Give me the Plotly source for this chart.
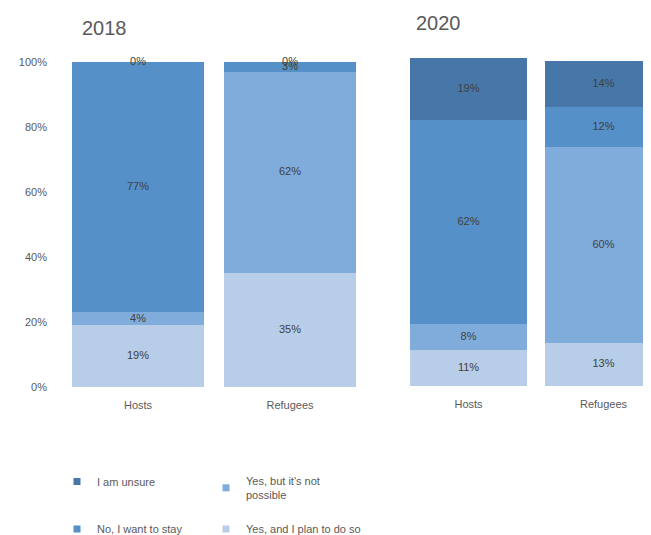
import plotly.graph_objects as go

categories = ["Hosts", "Refugees"]
series_names = ["Yes, and I plan to do so", "Yes, but it's not possible", "No, I want to stay", "I am unsure"]
legend_names = ["Yes, and I plan to do so", "Yes, but it's not<br>possible", "No, I want to stay", "I am unsure"]
colors = ["#B8CDE7", "#80ACDB", "#5590C8", "#4677A8"]

values_2018 = {
    "Yes, and I plan to do so": [19, 35],
    "Yes, but it's not possible": [4, 62],
    "No, I want to stay": [77, 3],
    "I am unsure": [0, 0],
}
values_2020 = {
    "Yes, and I plan to do so": [11, 13],
    "Yes, but it's not possible": [8, 60],
    "No, I want to stay": [62, 12],
    "I am unsure": [19, 14],
}
y_ticks = [0, 20, 40, 60, 80, 100]
y_tick_labels = ["0%", "20%", "40%", "60%", "80%", "100%"]

OFF = 8  # page body margin
W, H = 651 - OFF, 535 - OFF
TXT = "#404040"
GRAY = "#595959"
FONT = "Liberation Sans"

fig = go.Figure()

def add_panel(vals, xa, ya):
    cum = [0.0] * len(categories)
    lx, ly, lt = [], [], []
    for name, col in zip(series_names, colors):
        v = vals[name]
        fig.add_trace(go.Bar(x=categories, y=v, marker=dict(color=col, line=dict(width=0)),
                             xaxis=xa, yaxis=ya, showlegend=False, hoverinfo="skip"))
        for i, c in enumerate(categories):
            lx.append(c)
            ly.append(cum[i] + v[i] / 2)
            lt.append(f"{v[i]}%")
            cum[i] += v[i]
    fig.add_trace(go.Scatter(x=lx, y=ly, text=lt, mode="text", xaxis=xa, yaxis=ya,
                             textfont=dict(color=TXT, size=11, family=FONT),
                             showlegend=False, hoverinfo="skip", cliponaxis=False))

add_panel(values_2018, "x", "y")
add_panel(values_2020, "x2", "y2")

# legend entries: one small legend per entry, arranged in a 2x2 grid
legend_assign = {"I am unsure": "legend", "No, I want to stay": "legend2",
                 "Yes, but it's not possible": "legend3", "Yes, and I plan to do so": "legend4"}
for name in ["I am unsure", "No, I want to stay", "Yes, but it's not possible", "Yes, and I plan to do so"]:
    idx = series_names.index(name)
    fig.add_trace(go.Scatter(x=[None], y=[None], mode="markers", name=legend_names[idx],
                             marker=dict(symbol="square", size=7, color=colors[idx]),
                             legend=legend_assign[name], xaxis="x", yaxis="y"))

# page pixel -> paper fraction
def px_x(p):
    return (p - OFF) / W

def px_y(p):
    return 1 - (p - OFF) / H

legend_common = dict(orientation="h", xanchor="left", traceorder="normal",
                     font=dict(size=11, color=GRAY, family=FONT),
                     itemwidth=30, bgcolor="rgba(0,0,0,0)")

fig.update_layout(
    template="none",
    width=W, height=H,
    margin=dict(l=0, r=0, t=0, b=0, autoexpand=False),
    paper_bgcolor="white", plot_bgcolor="white",
    barmode="stack", bargap=0.1316,
    font=dict(family=FONT, size=11, color=TXT),
    xaxis=dict(domain=[px_x(62), px_x(366)], showgrid=False, showline=False, ticks="",
               zeroline=False, automargin=False, ticklabelstandoff=10,
               tickfont=dict(size=11, color=GRAY), range=[-0.5, 1.5]),
    yaxis=dict(domain=[px_y(387), px_y(62)], range=[0, 100], tickvals=y_ticks, ticktext=y_tick_labels,
               showgrid=False, zeroline=False, showline=False, ticks="", ticklabelstandoff=14,
               automargin=False, tickfont=dict(size=11, color=GRAY)),
    xaxis2=dict(domain=[px_x(401), 1.0], showgrid=False, showline=False, ticks="", anchor="y2",
                zeroline=False, automargin=False, ticklabelstandoff=10,
                tickfont=dict(size=11, color=GRAY), range=[-0.5, -0.5 + 250 / 135]),
    yaxis2=dict(domain=[px_y(386), px_y(58)], range=[0, 100], anchor="x2", showgrid=False,
                zeroline=False, showline=False, showticklabels=False, automargin=False),
    legend=dict(x=px_x(57), y=px_y(467), yanchor="top", **legend_common),
    legend2=dict(x=px_x(57), y=px_y(529), yanchor="middle", **legend_common),
    legend3=dict(x=px_x(206), y=px_y(467), yanchor="top", **legend_common),
    legend4=dict(x=px_x(206), y=px_y(529), yanchor="middle", **legend_common),
    annotations=[
        dict(text="2018", x=px_x(80), y=px_y(28), xref="paper", yref="paper", xanchor="left",
             yanchor="middle", showarrow=False, font=dict(size=20, color=GRAY, family=FONT)),
        dict(text="2020", x=px_x(414), y=px_y(23), xref="paper", yref="paper", xanchor="left",
             yanchor="middle", showarrow=False, font=dict(size=20, color=GRAY, family=FONT)),
    ],
)

fig.write_html("out.html")
